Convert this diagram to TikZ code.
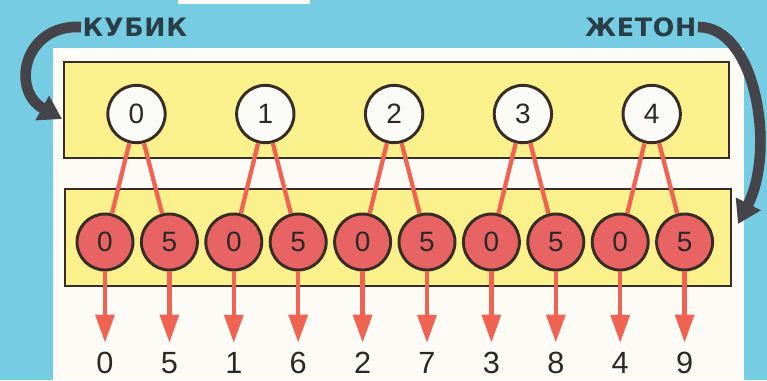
\documentclass[tikz,border=0pt]{standalone}
\usepackage{fontspec}
\setmainfont{Liberation Sans}
\newfontfamily\capfont[LetterSpace=3]{DejaVu Sans}
\usetikzlibrary{arrows.meta, positioning}
\definecolor{cSky}{RGB}{118,204,226}
\definecolor{cPanel}{RGB}{252,251,245}
\definecolor{cTray}{RGB}{250,240,140}
\definecolor{cEdge}{RGB}{55,45,38}
\definecolor{cCoin}{RGB}{250,250,246}
\definecolor{cRed}{RGB}{232,100,100}
\definecolor{cLink}{RGB}{240,98,82}
\definecolor{cDigit}{RGB}{45,40,40}
\definecolor{cSwoop}{RGB}{68,68,74}
\definecolor{cCaption}{RGB}{42,62,72}
\tikzset{
	tray/.style   ={draw=cEdge, line width=2.2pt, fill=cTray},
	coinW/.style  ={circle, draw=cEdge, line width=2.2pt, fill=cCoin, minimum size=43pt, inner sep=0pt, text=cDigit, font=\fontsize{21}{21}\selectfont},
	coinR/.style  ={circle, draw=cEdge, line width=2.2pt, fill=cRed, minimum size=42pt, inner sep=0pt, text=cDigit, font=\fontsize{21}{21}\selectfont},
	result/.style ={text=cDigit, inner sep=1pt, font=\fontsize{23}{23}\selectfont},
	link/.style   ={cLink, line width=3.2pt},
	drop/.style   ={cLink, line width=3.2pt, -{Triangle[width=14pt, length=21pt]}, shorten >=6pt},
	swoop/.style  ={cSwoop, line width=8pt, -{Triangle[width=20pt, length=17pt]}},
	caption/.style={text=cCaption, inner sep=1pt, font=\capfont\bfseries\fontsize{19}{19}\selectfont},
}
\begin{document}
\begin{tikzpicture}[x=0.75pt, y=-0.75pt]
	\useasboundingbox (0,0) rectangle (767,380);
	% backdrop
	\fill[cSky] (0,0) rectangle (767,380);
	\fill[cPanel] (53,48) rectangle (744,380);
	\fill[cPanel] (178,0) rectangle (310,4);
	% trays
	\draw[tray] (64,62) rectangle (729,158);
	\draw[tray] (65,189) rectangle (731,286);
	% dice faces
	\foreach \i in {0,...,4}
		\node[coinW] (w\i) at ({136.5+128.8*\i},114) {\i};
	% token faces and sums
	\foreach \i in {0,...,9} {
		\pgfmathtruncatemacro{\face}{5*mod(\i,2)}
		\pgfmathtruncatemacro{\total}{floor(\i/2)+\face}
		\node[coinR] (r\i) at ({105+64.4*\i},242) {\face};
		\node[result] (n\i) at ({105+64.4*\i},363) {\total};
		\draw[drop] (r\i) -- (n\i);
	}
	\foreach \i in {0,...,4} {
		\pgfmathtruncatemacro{\a}{2*\i}
		\pgfmathtruncatemacro{\b}{2*\i+1}
		\draw[link] (w\i) -- (r\a);
		\draw[link] (w\i) -- (r\b);
	}
	% captions with their arrows
	\node[caption, anchor=west] (kubik) at (81,27) {КУБИК};
	\node[caption, anchor=east] (zheton) at (698,27) {ЖЕТОН};
	\coordinate (kTip) at (62,119);
	\coordinate (zTip) at (738,224);
	\draw[swoop] (kubik.west) .. controls (24,24) and (10,90) .. (kTip);
	\draw[swoop] (zheton.east) .. controls (756,26) and (776,150) .. (zTip);
\end{tikzpicture}
\end{document}
